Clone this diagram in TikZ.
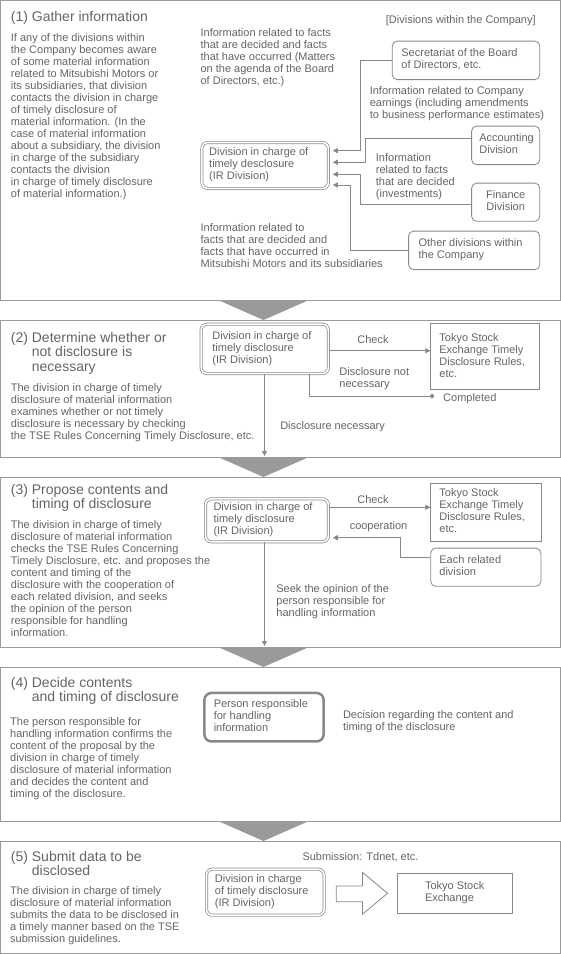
\documentclass[tikz,border=0pt]{standalone}
\usepackage{fontspec}
\setmainfont{Liberation Sans}
\usetikzlibrary{arrows.meta}
\definecolor{tc}{HTML}{646464}
\definecolor{lc}{HTML}{888888}
\definecolor{fc}{HTML}{9A9A9A}
\newcommand\fsb{\fontsize{11}{12}\selectfont}
\newcommand\fst{\fontsize{14}{13.5}\selectfont}
\newcommand\mytl[1]{\begin{tabular}{@{}l@{}}#1\end{tabular}}
\newcommand\mytc[1]{\begin{tabular}{@{}c@{}}#1\end{tabular}}
\newcommand\mybt[2]{\makebox[#1pt][l]{\mytl{#2}}}
\newcommand\mybtc[2]{\makebox[#1pt][c]{\mytc{#2}}}
\tikzset{
  txt/.style={inner sep=0pt, anchor=north west, text=tc, font=\fsb},
  lbl/.style={inner sep=0pt, anchor=north, text=tc, font=\fsb},
  ttl/.style={inner sep=0pt, anchor=north west, text=tc, font=\fst},
  rbox/.style={draw=lc, line width=0.8pt, rounded corners=5pt, inner ysep=0pt, text=tc, font=\fsb},
  sqbox/.style={draw=lc, line width=0.8pt, inner ysep=0pt, text=tc, font=\fsb},
  dbox/.style={draw=lc, line width=0.7pt, double=white, double distance=1.6pt, rounded corners=6pt, inner ysep=0pt, text=tc, font=\fsb},
  pbox/.style={draw=lc, line width=2.5pt, rounded corners=7pt, inner ysep=0pt, text=tc, font=\fsb},
  frame/.style={draw=fc, line width=0.9pt},
  chev/.style={fill=fc},
  conn/.style={draw=lc, line width=0.8pt},
  arr/.style={conn, -{Triangle[length=5pt,width=5pt]}},
}
\begin{document}
\begin{tikzpicture}[x=1pt,y=-1pt]
\useasboundingbox (0,0) rectangle (561,954);
% frames
\draw[frame] (0.5,0.5) rectangle (560.5,300);
\draw[frame] (0.5,320) rectangle (560.5,457);
\draw[frame] (0.5,477) rectangle (560.5,647);
\draw[frame] (0.5,667) rectangle (560.5,821);
\draw[frame] (0.5,841) rectangle (560.5,953.5);
% chevrons
\fill[chev] (218,300) -- (309,300) -- (263.5,320) -- cycle;
\fill[chev] (218,457) -- (309,457) -- (263.5,477) -- cycle;
\fill[chev] (218,647) -- (309,647) -- (263.5,667) -- cycle;
\fill[chev] (218,821) -- (309,821) -- (263.5,841) -- cycle;

% ---------- Section 1
\node[ttl] (t1) at (10.7,10.9) {\mytl{(1) Gather information}};
\node[txt] (b1) at (10.7,33) {\mytl{If any of the divisions within\\the Company becomes aware\\of some material information\\related to Mitsubishi Motors or\\its subsidiaries, that division\\contacts the division in charge\\of timely disclosure of\\material information. (In the\\case of material information\\about a subsidiary, the division\\in charge of the subsidiary\\contacts the division\\in charge of timely disclosure\\of material information.)}};
\node[txt] (divs) at (385.7,14.6) {\mytl{[Divisions within the Company]}};
\node[txt] (i1a) at (200.4,28) {\mytl{Information related to facts\\that are decided and facts\\that have occurred (Matters\\on the agenda of the Board\\of Directors, etc.)}};
\node[txt] (i1b) at (369.6,85.6) {\mytl{Information related to Company\\earnings (including amendments\\to business performance estimates)}};
\node[txt] (i1c) at (375.7,153) {\mytl{Information\\related to facts\\that are decided\\(investments)}};
\node[txt] (i1d) at (200.4,223.3) {\mytl{Information related to\\facts that are decided and\\facts that have occurred in\\Mitsubishi Motors and its subsidiaries}};

\node[rbox, inner xsep=9.2pt, minimum width=147.6pt, minimum height=38.5pt] (sec) at (466,60.35) {\mybt{129.2}{Secretariat of the Board\\of Directors, etc.}};
\node[rbox, inner xsep=7.8pt, minimum width=68.2pt, minimum height=38.5pt] (acc) at (505.7,145.35) {\mybt{52.6}{Accounting\\Division}};
\node[rbox, inner xsep=7.8pt, minimum width=68.2pt, minimum height=38.2pt] (fin) at (505.7,202.2) {\mybtc{52.6}{Finance\\Division}};
\node[rbox, inner xsep=10pt, minimum width=131.2pt, minimum height=38.5pt] (oth) at (474.2,250.35) {\mybt{111.2}{Other divisions within\\the Company}};
\node[dbox, inner xsep=7.3pt, minimum width=126.5pt, minimum height=46pt] (ir1) at (265.15,165.5) {\mybt{111.9}{Division in charge of\\timely desclosure\\(IR Division)}};

\coordinate (k1) at (360.3,150.7);
\coordinate (j2) at (365.6,138.3);
\coordinate (k2) at (365.6,162.3);
\coordinate (j3) at (360.3,204);
\coordinate (k3) at (360.3,174.3);
\coordinate (k4) at (350.6,185);
\draw[arr, shorten >=4pt] (sec.west) -| (k1) -- (k1 -| ir1.east);
\draw[arr, shorten >=4pt] (acc.west |- j2) -- (j2) -- (k2) -- (k2 -| ir1.east);
\draw[arr, shorten >=4pt] (fin.west |- j3) -- (j3) -- (k3) -- (k3 -| ir1.east);
\draw[arr, shorten >=4pt] (oth.west) -| (k4) -- (k4 -| ir1.east);

% ---------- Section 2
\node[ttl] (t2) at (10.7,332.3) {\mytl{(2) Determine whether or\\\phantom{(2) }not disclosure is\\\phantom{(2) }necessary}};
\node[txt] (b2) at (10.7,383) {\mytl{The division in charge of timely\\disclosure of material information\\examines whether or not timely\\disclosure is necessary by checking\\the TSE Rules Concerning Timely Disclosure, etc.}};
\node[dbox, inner xsep=11.3pt, minimum width=127.3pt, minimum height=49.3pt] (ir2) at (264.75,348.85) {\mybt{104.7}{Division in charge of\\timely disclosure\\(IR Division)}};
\node[sqbox, inner xsep=8.6pt, minimum width=109pt, minimum height=65.9pt] (tse2) at (485.3,356.65) {\mybt{91.8}{Tokyo Stock\\Exchange Timely\\Disclosure Rules,\\etc.}};
\node[lbl] (chk2) at (373,335) {Check};
\node[txt] (dnn) at (339.2,366.6) {\mytl{Disclosure not\\necessary}};
\node[txt] (comp) at (443,393) {\mytl{Completed}};
\node[txt] (dn) at (280.1,420.6) {\mytl{Disclosure necessary}};
\coordinate (ch2) at (380,350.7);
\coordinate (cp1) at (309.8,396);
\coordinate (d2) at (264.5,456);
\draw[arr] (ir2.east |- ch2) -- (tse2.west |- ch2);
\draw[conn, -{Turned Square[length=5pt,width=5pt]}, shorten >=8.5pt] (cp1 |- ir2.south) -- (cp1) -- (comp.west |- cp1);
\draw[arr] (d2 |- ir2.south) -- (d2);

% ---------- Section 3
\node[ttl] (t3) at (10.7,484) {\mytl{(3) Propose contents and\\\phantom{(3) }timing of disclosure}};
\node[txt] (b3) at (10.7,520) {\mytl{The division in charge of timely\\disclosure of material information\\checks the TSE Rules Concerning\\Timely Disclosure, etc. and proposes the\\content and timing of the\\disclosure with the cooperation of\\each related division, and seeks\\the opinion of the person\\responsible for handling\\information.}};
\node[dbox, inner xsep=8pt, minimum width=122.9pt, minimum height=43pt] (ir3) at (266.95,520.3) {\mybt{106.9}{Division in charge of\\timely disclosure\\(IR Division)}};
\node[sqbox, inner xsep=8.6pt, minimum width=110.1pt, minimum height=58.2pt] (tse3) at (485.85,512.2) {\mybt{92.9}{Tokyo Stock\\Exchange Timely\\Disclosure Rules,\\etc.}};
\node[rbox, inner xsep=8.6pt, minimum width=110.1pt, minimum height=38.2pt] (each) at (485.85,567.2) {\mybt{92.9}{Each related\\division}};
\node[lbl] (chk3) at (373,495) {Check};
\node[lbl] (coop) at (378.5,521.6) {cooperation};
\node[txt] (seek) at (276.2,584) {\mytl{Seek the opinion of the\\person responsible for\\handling information}};
\coordinate (ch3) at (380,507.3);
\coordinate (q1) at (400,557.3);
\coordinate (q2) at (400,537.7);
\coordinate (d3) at (264.5,646);
\draw[arr] (ir3.east |- ch3) -- (tse3.west |- ch3);
\draw[arr, shorten >=4pt] (each.west |- q1) -- (q1) -- (q2) -- (q2 -| ir3.east);
\draw[arr] (d3 |- ir3.south) -- (d3);

% ---------- Section 4
\node[ttl] (t4) at (10.7,677.3) {\mytl{(4) Decide contents\\\phantom{(4) }and timing of disclosure}};
\node[txt] (b4) at (10,716.6) {\mytl{The person responsible for\\handling information confirms the\\content of the proposal by the\\division in charge of timely\\disclosure of material information\\and decides the content and\\timing of the disclosure.}};
\node[pbox, inner xsep=9.3pt, minimum width=119.2pt, minimum height=48.5pt] (pers) at (264.05,717.2) {\mybt{100.6}{Person responsible\\for handling\\information}};
\node[txt] (dec) at (342.8,710) {\mytl{Decision regarding the content and\\timing of the disclosure}};

% ---------- Section 5
\node[ttl] (t5) at (10.7,851.3) {\mytl{(5) Submit data to be\\\phantom{(5) }disclosed}};
\node[txt] (b5) at (10,886.3) {\mytl{The division in charge of timely\\disclosure of material information\\submits the data to be disclosed in\\a timely manner based on the TSE\\submission guidelines.}};
\node[txt] (subm) at (302.3,852.3) {\mytl{Submission: Tdnet, etc.}};
\node[dbox, inner xsep=8.4pt, minimum width=117.6pt, minimum height=46pt] (ir5) at (265.3,892.2) {\mybt{100.8}{Division in charge\\of timely disclosure\\(IR Division)}};
\node[sqbox, inner xsep=27.5pt, minimum width=114.4pt, minimum height=39.2pt] (tse5) at (454.7,893.3) {\mybt{59.4}{Tokyo Stock\\Exchange}};
\draw[draw=lc, line width=0.8pt, fill=white] (336.3,886) -- (362.4,886) -- (362.4,872.3) -- (387.5,893.3) -- (362.4,914.3) -- (362.4,901.7) -- (336.3,901.7) -- cycle;
\end{tikzpicture}
\end{document}
